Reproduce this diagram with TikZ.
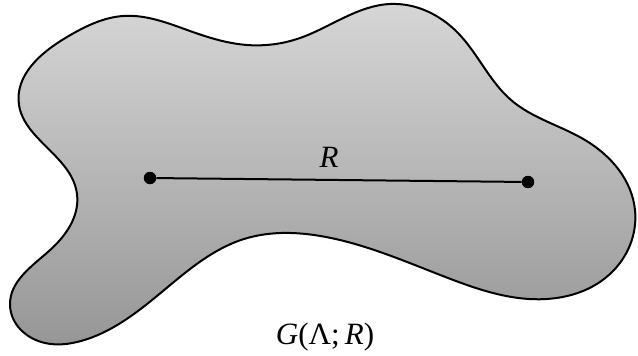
\documentclass[tikz,border=0pt]{standalone}
\usepackage{fontspec}
\setmainfont{Liberation Serif}
\usetikzlibrary{hobby}
\definecolor{topg}{RGB}{214,214,214}
\definecolor{botg}{RGB}{150,150,150}
\tikzset{
  blob/.style={draw=black, line width=2pt, top color=topg, bottom color=botg},
  pt/.style={circle, fill=black, inner sep=0pt, minimum size=12.5pt},
  conn/.style={line width=2pt},
  lbl/.style={font=\fontsize{31}{36}\selectfont, inner sep=0pt, anchor=base}
}
\begin{document}
\begin{tikzpicture}[x=1pt,y=-1pt]
\useasboundingbox (0,0) rectangle (638,356);
\draw[blob] plot[closed hobby] coordinates {
 (19,105) (67,37) (123,16) (190,31) (247,45) (300,38)
 (390,4) (458,33) (511,100) (585,140) (635,210) (610,274) (529,299)
 (448,278) (326,237) (281,233) (244,239) (163,291) (81,341) (45,343)
 (10,305) (49,251) (77,194) (35,135)};
\node[pt] (a) at (150,178) {};
\node[pt] (b) at (528,182) {};
\draw[conn] (a) -- (b);
\node[lbl] (r) at (329,167) {\textit{R}};
\node[lbl] (g) at (325,344) {\textit{G}(Λ;\,\textit{R})};
\end{tikzpicture}
\end{document}
